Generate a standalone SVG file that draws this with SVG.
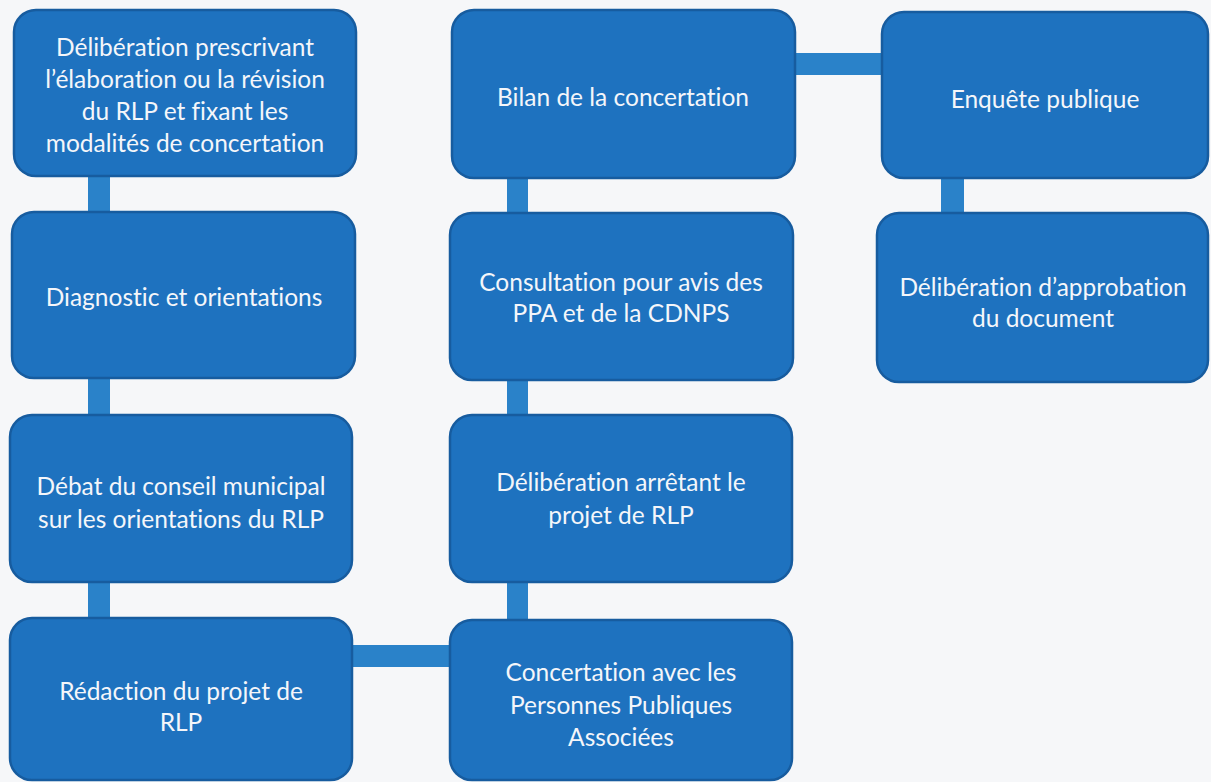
<svg xmlns="http://www.w3.org/2000/svg" width="1211" height="782" viewBox="0 0 1211 782">
<style>
.bg{fill:#f6f7f9}
.node{fill:#1e72bf;stroke:#175c9f;stroke-width:2.5}
.bar{fill:#2a82c9}
.t{font-family:Lato,"Open Sans","Liberation Sans",sans-serif;font-size:24.5px;fill:#f4f6fa;text-anchor:middle;font-variant-ligatures:none}
</style>
<rect class="bg" x="0" y="0" width="1211" height="782"/>
<g id="connectors">
<rect class="bar" x="88" y="170" width="22" height="455"/>
<rect class="bar" x="507" y="170" width="21" height="460"/>
<rect class="bar" x="941" y="170" width="23" height="50"/>
<rect class="bar" x="790" y="53" width="96" height="22"/>
<rect class="bar" x="348" y="645" width="106" height="22"/>
</g>
<g id="n1"><rect class="node" x="14" y="10" width="342" height="166" rx="22"/>
<text class="t" x="185" y="56">Délibération prescrivant</text>
<text class="t" x="185" y="88">l’élaboration ou la révision</text>
<text class="t" x="185" y="120">du RLP et fixant les</text>
<text class="t" x="185" y="152">modalités de concertation</text></g>
<g id="n2"><rect class="node" x="452" y="10" width="343" height="168" rx="22"/>
<text class="t" x="623" y="106">Bilan de la concertation</text></g>
<g id="n3"><rect class="node" x="882" y="12" width="326" height="166" rx="22"/>
<text class="t" x="1045" y="108">Enquête publique</text></g>
<g id="n4"><rect class="node" x="12" y="212" width="343" height="166" rx="22"/>
<text class="t" x="184" y="306">Diagnostic et orientations</text></g>
<g id="n5"><rect class="node" x="450" y="213" width="343" height="167" rx="22"/>
<text class="t" x="621" y="291">Consultation pour avis des</text>
<text class="t" x="621" y="322">PPA et de la CDNPS</text></g>
<g id="n6"><rect class="node" x="877" y="213" width="331" height="169" rx="22"/>
<text class="t" x="1043" y="296">Délibération d’approbation</text>
<text class="t" x="1043" y="327">du document</text></g>
<g id="n7"><rect class="node" x="10" y="415" width="342" height="167" rx="22"/>
<text class="t" x="181" y="495">Débat du conseil municipal</text>
<text class="t" x="181" y="528">sur les orientations du RLP</text></g>
<g id="n8"><rect class="node" x="450" y="415" width="342" height="167" rx="22"/>
<text class="t" x="621" y="491">Délibération arrêtant le</text>
<text class="t" x="621" y="524">projet de RLP</text></g>
<g id="n9"><rect class="node" x="10" y="618" width="342" height="162" rx="22"/>
<text class="t" x="181" y="700">Rédaction du projet de</text>
<text class="t" x="181" y="731">RLP</text></g>
<g id="n10"><rect class="node" x="450" y="620" width="342" height="160" rx="22"/>
<text class="t" x="621" y="681">Concertation avec les</text>
<text class="t" x="621" y="714">Personnes Publiques</text>
<text class="t" x="621" y="746">Associées</text></g>
</svg>
